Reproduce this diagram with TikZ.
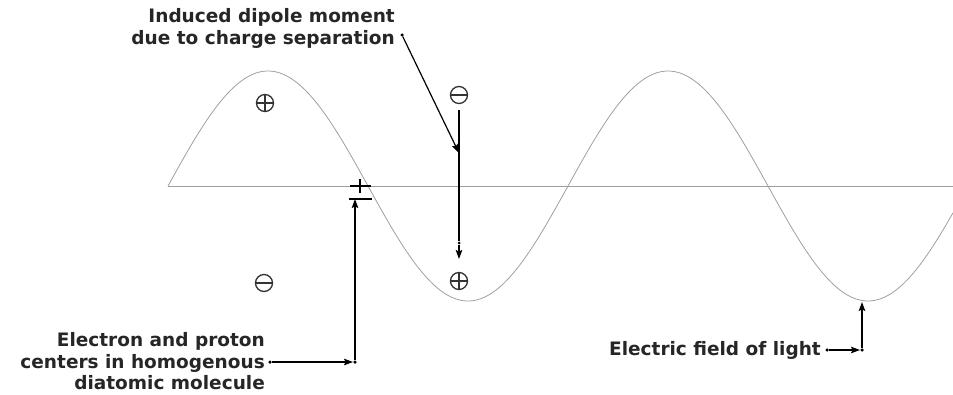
\documentclass[tikz,border=0pt]{standalone}
\usepackage{fontspec}
\setmainfont{DejaVu Sans}
\usetikzlibrary{arrows.meta,positioning}
\tikzset{
  axisline/.style={draw=gray!75,line width=0.8pt},
  wave/.style={draw=gray!75,line width=0.8pt},
  lbl/.style={font=\fontsize{18.5}{21.5}\selectfont\bfseries,align=right,inner sep=0pt,text=black!85},
  chg/.style={circle,draw=black!80,line width=1.3pt,minimum size=17pt,inner sep=0pt},
  chgneg/.style={chg,path picture={\draw[line width=1.3pt,black!80]
      (path picture bounding box.west) -- (path picture bounding box.east);}},
  chgpos/.style={chg,path picture={\draw[line width=1.3pt,black!80]
      (path picture bounding box.west) -- (path picture bounding box.east)
      (path picture bounding box.north) -- (path picture bounding box.south);}},
  arr/.style={-{Stealth[length=9pt,width=6.5pt,inset=1.5pt]},line width=1.2pt},
  pin/.style={circle,fill=black,inner sep=0pt,minimum size=3.5pt},
  bar/.style={line width=1.3pt},
}
\begin{document}
\begin{tikzpicture}[x=1pt,y=-1pt]
\useasboundingbox (0,0) rectangle (953,394);
% field axis and wave
\draw[axisline] (168,186) -- (953,186);
\draw[wave] plot[domain=168:953,samples=240] (\x,{186-115*sin((\x-168)*0.9)});
% charges
\node[chgpos] (pos1) at (265,103) {};
\node[chgneg] (neg1) at (264,283) {};
\node[chgneg] (neg2) at (459,95) {};
\node[chgpos] (pos2) at (459,281) {};
% molecule at the node of the field
\draw[bar] (350,186) -- (371,186) (360,179) -- (360,193);
\draw[bar] (349,199) -- (372,199);
\coordinate (molbar) at (355,199);
% induced dipole
\node[lbl,anchor=east] (induced) at (395,28.5) {Induced dipole moment\\due to charge separation};
\node[pin] (inddot) at (402,35) {};
\coordinate (dipmid) at (459,153);
\draw[arr] (inddot) -- (dipmid);
\coordinate (diptop) at (459,110);
\node[pin,minimum size=3pt] (dipdot) at (459,243) {};
\coordinate (dipend) at (459,259);
\draw[line width=1.2pt] (diptop) -- (dipdot);
\draw[arr] (dipdot) -- (dipend);
% molecule label
\node[lbl,anchor=east] (molecule) at (265,361.5) {Electron and proton\\centers in homogenous\\diatomic molecule};
\node[pin] (moldot) at (270,362) {};
\node[pin] (molcorner) at (355,362) {};
\draw[arr] (moldot) -- (molcorner);
\draw[arr] (molcorner) -- (molbar);
% field label
\node[lbl,anchor=east] (field) at (821,350) {Electric field of light};
\node[pin] (fielddot) at (827,350) {};
\node[pin] (fieldcorner) at (862,350) {};
\coordinate (trough) at (862,302);
\draw[arr] (fielddot) -- (fieldcorner);
\draw[arr] (fieldcorner) -- (trough);
\end{tikzpicture}
\end{document}
